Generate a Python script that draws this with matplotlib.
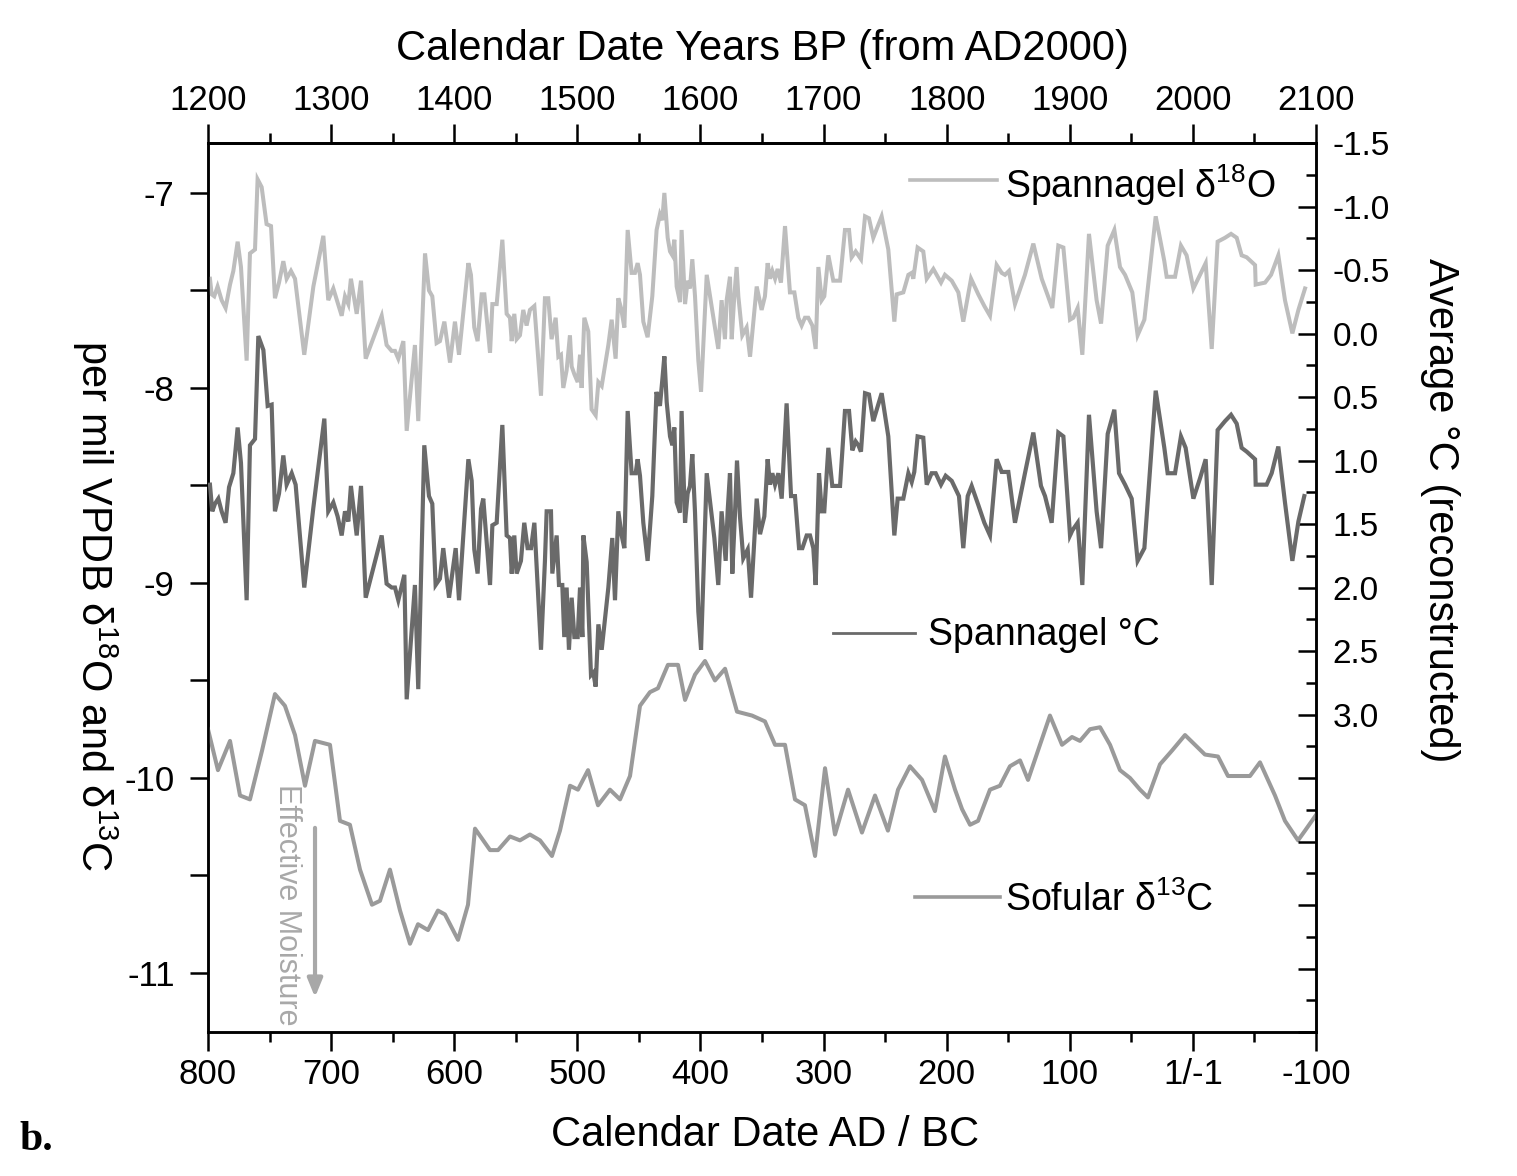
import matplotlib
matplotlib.use("Agg")
import matplotlib.pyplot as plt
from matplotlib.ticker import MultipleLocator
import numpy as np

plt.rcParams['font.family'] = ['Liberation Sans', 'DejaVu Sans']
plt.rcParams['axes.unicode_minus'] = False
plt.rcParams['mathtext.default'] = 'regular'

# Spannagel d18O (per mil VPDB)
d18o_year = [798.4, 797.0, 794.9, 792.2, 788.9, 785.7, 782.1, 779.4, 775.9, 773.2, 768.6, 765.9, 761.8, 759.7,
             756.4, 752.4, 748.8, 745.6, 742.3, 738.8, 736.1, 732.6, 729.3, 721.8, 714.4, 706.3, 702.3, 698.2,
             691.4, 688.7, 686.0, 683.9, 679.2, 675.7, 671.9, 658.9, 654.9, 650.8, 648.1, 645.4, 641.3, 638.6,
             631.9, 629.2, 623.7, 620.5, 617.8, 614.3, 611.6, 608.0, 603.4, 599.4, 596.1, 588.5, 586.4, 583.7,
             581.0, 577.7, 575.5, 570.9, 569.0, 565.5, 560.9, 557.4, 554.7, 553.3, 551.2, 549.3, 546.6, 543.9,
             541.2, 538.5, 534.9, 529.5, 526.3, 523.6, 520.9, 517.6, 515.4, 513.3, 511.4, 508.7, 506.0, 504.6,
             502.4, 499.7, 497.8, 496.5, 494.3, 491.1, 488.4, 485.1, 482.9, 480.2, 474.8, 472.1, 468.9, 466.7,
             464.5, 461.8, 459.1, 455.9, 453.2, 451.0, 449.1, 446.4, 442.9, 439.1, 435.6, 432.9, 431.0, 429.3,
             426.6, 424.7, 422.8, 421.2, 419.3, 416.6, 415.3, 412.5, 410.4, 408.5, 406.6, 404.4, 401.7, 399.5,
             394.9, 388.7, 385.5, 382.8, 380.1, 378.7, 376.0, 374.6, 372.5, 370.6, 369.2, 366.0, 362.5, 359.7,
             354.3, 350.3, 347.6, 345.4, 343.5, 341.6, 339.4, 337.3, 334.6, 331.3, 327.3, 323.7, 320.5, 317.8,
             315.1, 312.4, 309.1, 306.4, 304.2, 301.5, 299.4, 296.1, 292.1, 286.6, 282.6, 279.3, 277.2, 273.9,
             271.7, 269.6, 266.3, 263.1, 259.6, 252.8, 247.4, 242.5, 240.6, 235.2, 231.1, 228.4, 227.1, 223.6,
             219.0, 216.2, 210.8, 208.1, 204.6, 201.4, 195.9, 190.5, 186.5, 180.2, 174.3, 169.4, 164.8, 159.4,
             155.3, 152.6, 149.4, 144.5, 136.4, 129.6, 122.8, 118.8, 114.2, 109.3, 105.2, 99.8, 97.1, 93.6,
             89.8, 84.4, 78.2, 74.6, 69.2, 63.8, 59.2, 55.1, 49.2, 44.9, 39.4, 30.2, 23.2, 21.3, 14.5, 9.7, 5.1,
             -0.4, -5.8, -10.4, -15.3, -20.1, -26.1, -31.0, -35.6, -39.6, -43.7, -50.5, -51.0, -58.6, -63.5,
             -69.4, -74.8, -80.8, -85.7, -91.1]
d18o = [-7.44, -7.52, -7.53, -7.48, -7.55, -7.59, -7.47, -7.40, -7.25, -7.38, -7.86, -7.31, -7.29, -6.93,
        -6.97, -7.16, -7.17, -7.54, -7.46, -7.35, -7.44, -7.40, -7.44, -7.83, -7.48, -7.22, -7.55, -7.49,
        -7.63, -7.53, -7.57, -7.44, -7.62, -7.45, -7.85, -7.63, -7.78, -7.81, -7.81, -7.85, -7.76, -8.22,
        -7.78, -8.17, -7.31, -7.50, -7.53, -7.77, -7.76, -7.66, -7.87, -7.66, -7.83, -7.36, -7.42, -7.69,
        -7.76, -7.52, -7.52, -7.82, -7.57, -7.57, -7.24, -7.62, -7.64, -7.76, -7.62, -7.75, -7.73, -7.60,
        -7.68, -7.60, -7.58, -8.04, -7.54, -7.54, -7.75, -7.64, -7.84, -7.83, -8.00, -7.91, -7.73, -7.89,
        -7.93, -7.97, -7.83, -8.00, -7.64, -7.71, -8.11, -8.14, -7.97, -7.99, -7.78, -7.65, -7.85, -7.54,
        -7.59, -7.69, -7.19, -7.41, -7.41, -7.36, -7.42, -7.66, -7.74, -7.53, -7.19, -7.11, -7.14, -7.00,
        -7.23, -7.30, -7.32, -7.24, -7.48, -7.56, -7.19, -7.57, -7.45, -7.49, -7.34, -7.53, -7.86, -8.02,
        -7.42, -7.67, -7.80, -7.55, -7.75, -7.55, -7.43, -7.75, -7.53, -7.38, -7.53, -7.73, -7.69, -7.84,
        -7.48, -7.60, -7.53, -7.36, -7.44, -7.40, -7.44, -7.39, -7.46, -7.17, -7.51, -7.51, -7.64, -7.68,
        -7.64, -7.64, -7.68, -7.80, -7.38, -7.55, -7.53, -7.32, -7.45, -7.45, -7.19, -7.19, -7.33, -7.30,
        -7.32, -7.34, -7.12, -7.13, -7.23, -7.12, -7.29, -7.66, -7.52, -7.51, -7.42, -7.41, -7.44, -7.28,
        -7.30, -7.44, -7.39, -7.42, -7.46, -7.42, -7.45, -7.51, -7.66, -7.44, -7.52, -7.58, -7.63, -7.37,
        -7.41, -7.42, -7.40, -7.57, -7.42, -7.26, -7.44, -7.51, -7.59, -7.27, -7.28, -7.65, -7.64, -7.59,
        -7.83, -7.21, -7.55, -7.67, -7.27, -7.19, -7.38, -7.42, -7.51, -7.73, -7.65, -7.12, -7.35, -7.43,
        -7.43, -7.27, -7.32, -7.49, -7.42, -7.36, -7.80, -7.25, -7.23, -7.21, -7.23, -7.32, -7.33, -7.37,
        -7.47, -7.46, -7.42, -7.32, -7.55, -7.72, -7.60, -7.49]

# Spannagel reconstructed temperature (deg C), right axis
temp_year = [798.4, 796.5, 794.3, 791.6, 788.9, 785.7, 782.9, 779.4, 775.9, 773.2, 768.6, 765.9, 761.8, 759.1,
             755.0, 751.5, 748.3, 745.6, 742.3, 738.8, 736.1, 732.0, 728.8, 721.8, 714.4, 705.5, 702.3, 698.2,
             694.7, 691.4, 688.7, 686.0, 683.9, 679.2, 675.7, 671.9, 658.9, 654.9, 650.8, 648.1, 645.4, 640.5,
             638.6, 631.9, 629.2, 624.3, 620.5, 617.8, 615.1, 611.6, 608.9, 604.2, 598.8, 596.1, 588.5, 585.8,
             583.7, 581.0, 578.2, 576.4, 570.9, 569.0, 565.5, 560.9, 557.4, 554.7, 553.3, 551.2, 549.3, 545.8,
             543.1, 540.4, 537.6, 534.9, 529.5, 526.3, 524.9, 521.4, 520.3, 516.8, 514.9, 512.2, 510.6, 508.7,
             506.8, 504.6, 502.4, 499.7, 497.8, 495.9, 495.1, 492.4, 488.9, 487.0, 485.1, 482.9, 480.2, 474.8,
             471.6, 469.4, 466.7, 464.0, 461.8, 459.1, 455.9, 452.6, 451.0, 449.1, 446.4, 442.9, 439.1, 435.7,
             432.9, 431.0, 429.3, 427.4, 424.7, 422.8, 421.2, 419.3, 416.6, 415.3, 412.5, 410.4, 408.5, 406.6,
             404.4, 401.7, 399.5, 394.9, 388.7, 385.5, 382.8, 379.5, 377.9, 376.0, 374.1, 371.9, 370.3, 367.9,
             365.2, 361.6, 358.9, 354.3, 351.6, 348.1, 345.4, 343.5, 341.6, 339.4, 336.7, 334.0, 330.0, 326.4,
             323.2, 319.9, 317.2, 313.7, 311.0, 308.3, 306.4, 303.7, 301.5, 299.4, 296.1, 292.9, 286.6, 282.6,
             279.3, 276.6, 273.9, 271.7, 269.6, 266.3, 263.1, 259.6, 252.8, 247.4, 242.5, 239.8, 235.2, 231.1,
             228.4, 226.3, 223.6, 219.0, 216.2, 212.2, 208.9, 204.6, 200.8, 195.9, 190.0, 186.5, 182.9, 179.7,
             174.3, 169.4, 164.8, 159.4, 155.3, 149.9, 144.5, 136.4, 129.6, 123.4, 120.1, 114.7, 109.3, 105.2,
             99.8, 97.9, 93.6, 89.8, 84.4, 78.2, 74.6, 69.2, 63.8, 60.0, 55.1, 49.7, 44.9, 39.4, 30.2, 23.2,
             20.5, 14.5, 9.7, 5.9, -0.4, -5.8, -10.4, -15.3, -20.1, -26.1, -31.0, -35.6, -39.6, -43.7, -50.5,
             -51.0, -59.9, -64.0, -69.4, -74.8, -80.8, -85.7, -90.5]
temp = [1.19, 1.40, 1.34, 1.30, 1.40, 1.49, 1.21, 1.10, 0.74, 1.02, 2.10, 0.88, 0.83, 0.02,
        0.13, 0.57, 0.56, 1.40, 1.26, 0.96, 1.19, 1.10, 1.19, 2.00, 1.37, 0.67, 1.40, 1.33,
        1.44, 1.59, 1.40, 1.48, 1.20, 1.59, 1.20, 2.08, 1.59, 1.97, 2.00, 2.00, 2.10, 1.90,
        2.88, 1.98, 2.80, 0.88, 1.28, 1.34, 1.98, 1.93, 1.69, 2.08, 1.69, 2.10, 0.99, 1.16,
        1.70, 1.89, 1.38, 1.30, 1.98, 1.51, 1.49, 0.72, 1.59, 1.61, 1.89, 1.59, 1.89, 1.79,
        1.49, 1.69, 1.69, 1.49, 2.49, 1.79, 1.40, 1.40, 1.89, 1.59, 1.98, 1.98, 2.39, 2.00,
        2.49, 2.08, 2.39, 2.39, 2.00, 2.39, 1.59, 1.80, 2.69, 2.67, 2.78, 2.29, 2.49, 2.00,
        1.61, 2.10, 1.40, 1.59, 1.69, 0.61, 1.10, 1.10, 0.99, 1.12, 1.49, 1.79, 1.28, 0.46,
        0.57, 0.37, 0.18, 0.54, 0.81, 0.88, 0.74, 1.33, 1.41, 0.61, 1.49, 1.26, 1.20, 0.95,
        1.41, 2.19, 2.49, 1.10, 1.61, 1.98, 1.40, 1.79, 1.40, 1.10, 1.89, 1.41, 1.00, 1.44,
        1.77, 1.70, 2.08, 1.30, 1.58, 1.44, 0.99, 1.19, 1.10, 1.19, 1.10, 1.30, 0.55, 1.28,
        1.28, 1.69, 1.69, 1.59, 1.59, 1.69, 1.98, 1.10, 1.40, 1.40, 0.90, 1.20, 1.20, 0.61,
        0.61, 0.92, 0.85, 0.88, 0.93, 0.47, 0.48, 0.69, 0.47, 0.81, 1.59, 1.30, 1.30, 1.10,
        1.17, 1.09, 0.81, 0.82, 1.19, 1.10, 1.10, 1.19, 1.12, 1.16, 1.28, 1.69, 1.28, 1.20,
        1.35, 1.49, 1.59, 0.99, 1.09, 1.09, 1.49, 1.10, 0.78, 1.20, 1.28, 1.49, 0.78, 0.81,
        1.59, 1.55, 1.49, 1.98, 0.64, 1.40, 1.69, 0.79, 0.60, 1.10, 1.19, 1.30, 1.79, 1.69, 0.45, 0.90,
        1.10, 1.10, 0.81, 0.90, 1.30, 1.14, 0.99, 1.98, 0.76, 0.69, 0.64, 0.71, 0.90, 0.93, 0.99,
        1.19, 1.19, 1.10, 0.89, 1.33, 1.79, 1.48, 1.28]

# Sofular d13C (per mil VPDB)
sofular_year = [800.0, 791.9, 782.1, 774.0, 765.9, 756.1, 745.6, 737.5, 729.3, 721.2, 713.1, 700.9, 692.8, 684.7,
                676.5, 666.8, 660.3, 652.2, 644.0, 635.9, 629.4, 621.3, 613.2, 607.5, 596.9, 588.8, 583.1, 570.9,
                564.4, 554.7, 546.6, 538.5, 530.3, 520.6, 514.1, 505.9, 499.5, 491.3, 483.2, 473.5, 465.3, 457.2,
                449.1, 441.0, 434.5, 426.4, 418.2, 412.5, 404.4, 396.3, 388.2, 380.0, 370.3, 358.1, 347.6, 339.4,
                331.3, 323.2, 315.1, 306.9, 298.8, 290.7, 280.1, 268.8, 258.2, 247.7, 239.5, 229.8, 220.0, 209.5,
                201.4, 193.2, 187.5, 181.0, 174.5, 164.8, 156.7, 148.6, 140.4, 133.9, 124.2, 116.1, 106.3, 98.2,
                91.7, 83.6, 75.4, 67.3, 59.2, 51.1, 42.9, 36.5, 26.7, 17.0, 6.4, -1.7, -9.8, -20.4, -28.5, -38.3,
                -46.4, -54.5, -66.7, -74.8, -85.4, -91.1, -100.0]
sofular_d13c = [-9.75, -9.96, -9.81, -10.09, -10.11, -9.86, -9.57, -9.63, -9.78, -10.04, -9.81, -9.83, -10.22,
                -10.24, -10.47, -10.65, -10.63, -10.47, -10.68, -10.85, -10.75, -10.78, -10.68, -10.70, -10.83,
                -10.65, -10.26, -10.37, -10.37, -10.30, -10.32, -10.29, -10.32, -10.40, -10.27, -10.04, -10.06,
                -9.96, -10.14, -10.06, -10.11, -9.99, -9.63, -9.56, -9.54, -9.42, -9.42, -9.60, -9.47, -9.40,
                -9.50, -9.44, -9.66, -9.68, -9.71, -9.83, -9.83, -10.11, -10.14, -10.40, -9.95, -10.29, -10.06,
                -10.28, -10.09, -10.27, -10.06, -9.94, -10.01, -10.17, -9.89, -10.06, -10.16, -10.24, -10.22,
                -10.06, -10.04, -9.94, -9.91, -10.01, -9.83, -9.68, -9.83, -9.79, -9.81, -9.75, -9.74, -9.83,
                -9.96, -10.00, -10.06, -10.10, -9.93, -9.86, -9.78, -9.83, -9.88, -9.89, -9.99, -9.99, -9.99,
                -9.92, -10.09, -10.22, -10.32, -10.27, -10.19]

ad_ticks = [800, 700, 600, 500, 400, 300, 200, 100, 0, -100]
ad_labels = ['800', '700', '600', '500', '400', '300', '200', '100', '1/-1', '-100']
bp_ticks = list(range(1200, 2101, 100))
permil_ticks = [-7, -8, -9, -10, -11]
permil_labels = ['-7', '-8', '-9', '-10', '-11']
temp_ticks = list(np.arange(-1.5, 5.51, 0.5))
temp_labels = ['%.1f' % t if t <= 3.0 else '' for t in temp_ticks]

c_d18o = '#bdbdbd'
c_temp = '#6a6a6a'
c_sof = '#9a9a9a'
tick_w = 1.8


def main():
    fig = plt.figure(figsize=(15.17, 11.76), dpi=100)
    ax = fig.add_axes([0.1371, 0.1224, 0.7304, 0.7560])

    ax.plot(d18o_year, d18o, color=c_d18o, lw=2.9, solid_joinstyle='miter', zorder=3)
    ax.plot(sofular_year, sofular_d13c, color=c_sof, lw=2.9, zorder=3)

    axr = ax.twinx()
    axr.plot(temp_year, temp, color=c_temp, lw=3.0, solid_joinstyle='miter', zorder=3)
    axr.set_ylim(5.48, -1.5)
    axr.set_yticks(temp_ticks)
    axr.set_yticklabels(temp_labels)
    axr.yaxis.set_minor_locator(MultipleLocator(0.25))
    axr.tick_params(axis='y', which='major', direction='in', length=13, width=tick_w, labelsize=24, pad=12)
    axr.tick_params(axis='y', which='minor', direction='in', length=7, width=tick_w)
    axr.set_ylabel('Average °C (reconstructed)', fontsize=30, rotation=270,
                   va='center', ha='center', rotation_mode='anchor')
    axr.yaxis.set_label_coords(1.112, 0.587)

    ax.set_xlim(800, -100)
    ax.set_ylim(-11.303, -6.744)
    ax.set_xticks(ad_ticks)
    ax.set_xticklabels(ad_labels)
    ax.xaxis.set_minor_locator(MultipleLocator(50))
    ax.tick_params(axis='x', which='major', direction='out', length=14, width=tick_w, labelsize=25, pad=5)
    ax.tick_params(axis='x', which='minor', direction='out', length=7, width=tick_w)
    ax.set_yticks(permil_ticks)
    ax.set_yticklabels(permil_labels)
    ax.yaxis.set_minor_locator(MultipleLocator(0.5))
    ax.tick_params(axis='y', which='both', direction='out', length=13, width=tick_w, labelsize=25, pad=11)

    ax.set_xlabel('Calendar Date AD / BC', fontsize=30, va='center')
    ax.xaxis.set_label_coords(0.503, -0.116)
    ax.set_ylabel('per mil VPDB δ$^{18}$O and δ$^{13}$C', fontsize=30, rotation=270,
                  va='center', ha='center', rotation_mode='anchor')
    ax.yaxis.set_label_coords(-0.102, 0.48)

    top = ax.secondary_xaxis('top', functions=(lambda a: 2000 - a, lambda b: 2000 - b))
    top.set_xticks(bp_ticks)
    top.xaxis.set_minor_locator(MultipleLocator(50))
    top.tick_params(axis='x', which='major', direction='out', length=14, width=tick_w, labelsize=25, pad=5)
    top.tick_params(axis='x', which='minor', direction='out', length=7, width=tick_w)
    top.set_xlabel('Calendar Date Years BP (from AD2000)', fontsize=30, labelpad=17)

    for a in (ax, axr, top):
        for s in a.spines.values():
            s.set_linewidth(tick_w)

    # labels beside the curves
    ax.plot([0.6336, 0.7121], [0.9584, 0.9584], transform=ax.transAxes, color=c_d18o, lw=2.6)
    ax.text(0.7193, 0.9528, 'Spannagel δ$^{18}$O', transform=ax.transAxes, fontsize=27, va='center')
    ax.plot([0.5641, 0.6381], [0.4488, 0.4488], transform=ax.transAxes, color=c_temp, lw=2.0)
    ax.text(0.6498, 0.4466, 'Spannagel °C', transform=ax.transAxes, fontsize=27, va='center')
    ax.plot([0.6381, 0.7148], [0.1519, 0.1519], transform=ax.transAxes, color=c_sof, lw=2.6)
    ax.text(0.7193, 0.1485, 'Sofular δ$^{13}$C', transform=ax.transAxes, fontsize=27, va='center')

    ax.text(0.0713, 0.1429, 'Effective Moisture', transform=ax.transAxes, rotation=270,
            color='#a8a8a8', fontsize=22, ha='center', va='center')
    ax.annotate('', xy=(0.0966, 0.036), xytext=(0.0966, 0.2328), xycoords='axes fraction',
                arrowprops=dict(arrowstyle='-|>,head_length=1.1,head_width=0.45', color='#a8a8a8', lw=3))

    ax.set_xlim(800, -100)
    ax.set_ylim(-11.303, -6.744)

    fig.text(0.013, 0.022, 'b.', fontsize=30, fontweight='bold', family='Liberation Serif')

    fig.savefig('out.png', dpi=100, facecolor='white')


if __name__ == "__main__":
    main()
